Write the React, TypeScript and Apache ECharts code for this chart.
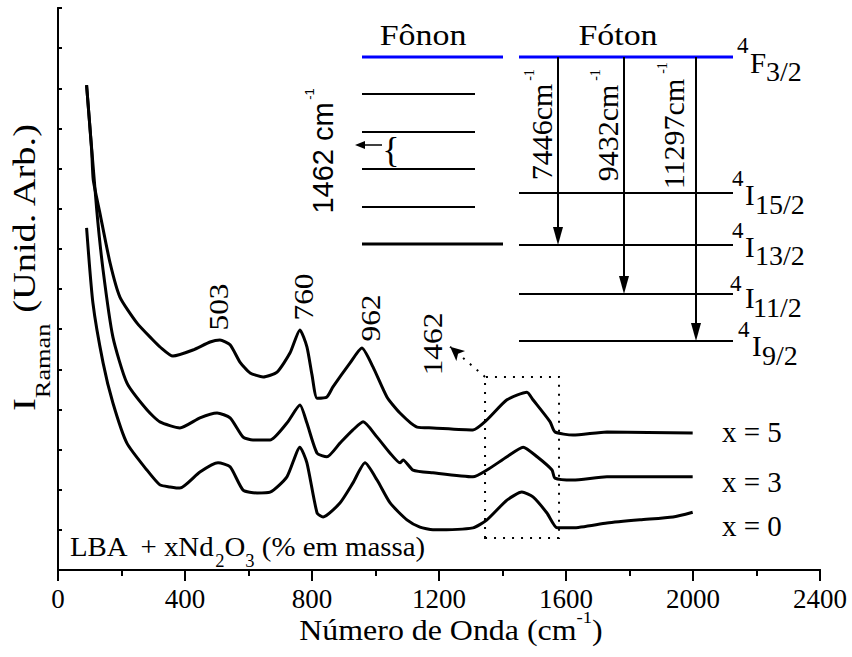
import React, { useEffect, useRef } from 'react';
import * as echarts from 'echarts';

// Raman shift (cm-1) and intensity (arb. units)
const wnX5 = [90,106,111,132,164,195,249,299,321,362,425,479,510,542,573,605,646,690,731,762,784,800,816,847,866,920,957,992,1036,1077,1131,1181,1307,1351,1414,1477,1496,1550,1565,1622,1729,1999];
const intX5 = [12.08,10.46,9.72,8.89,7.65,6.80,6.15,5.73,5.56,5.33,5.48,5.68,5.73,5.61,5.18,4.91,4.81,4.93,5.41,5.98,5.56,4.86,4.28,4.31,4.56,5.16,5.53,5.06,4.31,3.91,3.56,3.54,3.49,3.74,4.24,4.43,4.24,3.69,3.44,3.36,3.44,3.41];

const wnX3 = [90,122,142,173,217,280,321,384,447,501,542,583,614,668,721,762,784,816,847,888,929,961,1005,1046,1077,1087,1118,1181,1307,1351,1414,1465,1509,1556,1565,1622,1729,1999];
const intX3 = [12.08,8.97,7.47,5.80,4.66,3.99,3.69,3.54,3.79,3.91,3.79,3.31,3.24,3.24,3.66,4.11,3.66,2.91,2.82,3.16,3.49,3.69,3.31,2.91,2.67,2.74,2.49,2.42,2.32,2.49,2.82,3.06,2.82,2.49,2.29,2.24,2.32,2.32];

const wnX0 = [90,110,142,173,217,280,321,353,384,447,504,542,583,627,668,721,762,784,816,835,888,929,967,1005,1046,1099,1140,1181,1307,1351,1414,1461,1496,1540,1572,1622,1729,1833,1937,1999];
const intX0 = [8.52,6.65,5.16,4.16,3.16,2.49,2.12,2.07,2.04,2.44,2.67,2.57,1.99,1.92,1.94,2.32,3.06,2.67,1.42,1.32,1.67,2.17,2.67,2.24,1.67,1.25,1.07,1.00,1.05,1.25,1.74,1.94,1.82,1.42,1.05,1.05,1.17,1.25,1.32,1.44];

const xTicks = [0, 400, 800, 1200, 1600, 2000, 2400];
const sampleLabels = ['x = 5', 'x = 3', 'x = 0'];
const peakLabels = ['503', '760', '962', '1462'];
const boxRange = [[1345, 0.8], [1578, 4.81]];
const boxArrowTip = [1235, 5.56];

const zip = (a: number[], b: number[]) => a.map((v, i) => [v, b[i]]);

const SERIF = 'Liberation Serif';
const SANS = 'Liberation Sans';

function txt(text: string, x: number, y: number, size: number, family: string, align = 'left', rot = 0, extra: any = {}) {
  return {
    type: 'text', x, y, rotation: rot, silent: true, ...extra,
    style: {
      text, fontSize: size, fontFamily: family, fill: '#000',
      align, verticalAlign: 'middle', textAlign: align, textVerticalAlign: 'middle',
    },
  };
}
function seg(x1: number, y1: number, x2: number, y2: number, color = '#000', w = 2) {
  return { type: 'line', silent: true, shape: { x1, y1, x2, y2 }, style: { stroke: color, lineWidth: w } };
}
function downArrow(x: number, y1: number, y2: number) {
  return [
    seg(x, y1, x, y2 - 12),
    { type: 'polygon', silent: true, shape: { points: [[x - 5, y2 - 18], [x + 5, y2 - 18], [x, y2]] }, style: { fill: '#000' } },
  ];
}

function buildGraphics() {
  const g: any[] = [];
  const BLUE = '#0000ff';
  // Phonon ladder
  g.push(txt('Fônon', 423, 35, 29, SERIF, 'center', 0, { scaleX: 1.17 }));
  g.push(seg(362, 57, 503, 57, BLUE, 3));
  [94, 132, 169, 207].forEach((y) => g.push(seg(362, y, 475, y, '#000', 2)));
  g.push(seg(362, 244, 503, 244, '#000', 3));
  g.push(seg(382, 145, 363, 145, '#000', 1.5));
  g.push({ type: 'polygon', silent: true, shape: { points: [[355, 145], [365, 141], [365, 149]] }, style: { fill: '#000' } });
  g.push(txt('{', 391, 150, 36, SERIF, 'center'));
  g.push(txt('1462 cm', 323, 158, 29, SANS, 'center', Math.PI / 2));
  g.push(txt('-1', 309, 94, 13, SANS, 'center', Math.PI / 2));

  // Photon levels
  g.push(txt('Fóton', 618, 35, 29, SERIF, 'center', 0, { scaleX: 1.17 }));
  g.push(seg(519, 57, 733, 57, BLUE, 3));
  [193, 245, 294, 341].forEach((y) => g.push(seg(519, y, 733, y, '#000', 2.2)));
  g.push(...downArrow(558, 57, 245));
  g.push(...downArrow(624, 57, 294));
  g.push(...downArrow(696, 57, 341));
  g.push(txt('7446cm', 541, 132, 30, SERIF, 'center', Math.PI / 2));
  g.push(txt('-1', 529, 75, 14, SERIF, 'center', Math.PI / 2));
  g.push(txt('9432cm', 607, 133, 30, SERIF, 'center', Math.PI / 2));
  g.push(txt('-1', 595, 75, 14, SERIF, 'center', Math.PI / 2));
  g.push(txt('11297cm', 673, 134, 30, SERIF, 'center', Math.PI / 2));
  g.push(txt('-1', 662, 68, 14, SERIF, 'center', Math.PI / 2));

  const levels = [
    { main: 'F', sub: '3/2', supX: 737, supY: 45, mainX: 750, mainY: 63, subX: 766, subY: 71 },
    { main: 'I', sub: '15/2', supX: 732, supY: 178, mainX: 745, mainY: 195, subX: 755, subY: 204 },
    { main: 'I', sub: '13/2', supX: 732, supY: 230, mainX: 745, mainY: 247, subX: 755, subY: 255 },
    { main: 'I', sub: '11/2', supX: 730, supY: 283, mainX: 745, mainY: 298, subX: 753, subY: 307 },
    { main: 'I', sub: '9/2', supX: 738, supY: 329, mainX: 752, mainY: 346, subX: 762, subY: 355 },
  ];
  levels.forEach((l) => {
    g.push(txt('4', l.supX, l.supY, 23, SERIF));
    g.push(txt(l.main, l.mainX, l.mainY, 29, SERIF));
    g.push(txt(l.sub, l.subX, l.subY, 28, SERIF));
  });

  // Peak labels
  const peakPos = [[219, 307], [304, 297], [371, 318], [433, 344]];
  peakLabels.forEach((p, i) => g.push(txt(p, peakPos[i][0], peakPos[i][1], 28, SERIF, 'center', Math.PI / 2, { scaleX: 1.12 })));

  // Sample labels
  const sampleY = [432, 482, 526];
  sampleLabels.forEach((s, i) => g.push(txt(s, 722, sampleY[i], 29, SERIF)));

  // Composition text
  g.push({
    type: 'text', x: 70, y: 524, silent: true, scaleX: 1.03,
    style: {
      text: '{a|LBA  + xNd}{s|2}{a|O}{s|3}{a| (% em massa)}',
      fill: '#000', align: 'left', verticalAlign: 'top', textAlign: 'left', textVerticalAlign: 'top',
      fontFamily: SERIF, fontSize: 28,
      rich: {
        a: { fontFamily: SERIF, fontSize: 28, lineHeight: 46, fill: '#000' },
        s: { fontFamily: SERIF, fontSize: 18, lineHeight: 18, verticalAlign: 'bottom', fill: '#000' },
      },
    },
  });

  // X axis title
  g.push({
    type: 'text', x: 451, y: 630, silent: true, scaleX: 1.1,
    style: {
      text: '{a|Número de Onda (cm}{s|-1}{a|)}',
      fill: '#000', align: 'center', verticalAlign: 'middle', textAlign: 'center', textVerticalAlign: 'middle',
      fontFamily: SERIF, fontSize: 29,
      rich: {
        a: { fontFamily: SERIF, fontSize: 29, lineHeight: 42, fill: '#000' },
        s: { fontFamily: SERIF, fontSize: 17, lineHeight: 17, verticalAlign: 'top', fill: '#000' },
      },
    },
  });

  // Y axis title
  g.push({
    type: 'text', x: 25, y: 267, silent: true, rotation: Math.PI / 2, scaleX: 1.2,
    style: {
      text: '{a|I}{s|Raman}{a| (Unid. Arb.)}',
      fill: '#000', align: 'center', verticalAlign: 'middle', textAlign: 'center', textVerticalAlign: 'middle',
      fontFamily: SERIF, fontSize: 32,
      rich: {
        a: { fontFamily: SERIF, fontSize: 32, lineHeight: 56, fill: '#000' },
        s: { fontFamily: SERIF, fontSize: 22, lineHeight: 22, verticalAlign: 'bottom', fill: '#000' },
      },
    },
  });
  return g;
}

const axisLine = { show: true, lineStyle: { color: '#000', width: 2 } };

export default function App() {
  const ref = useRef<HTMLDivElement>(null);
  useEffect(() => {
    const chart = echarts.init(ref.current!, null, { renderer: 'svg' });
    const lineSeries = (name: string, data: number[][], extra: any = {}) => ({
      name, type: 'line', data, showSymbol: false, symbol: 'none', smooth: 0.2,
      lineStyle: { color: '#000', width: 3 }, itemStyle: { color: '#000' }, silent: true, z: 3, ...extra,
    });
    chart.setOption({
      animation: false,
      backgroundColor: '#fff',
      grid: { left: 58, right: 32, top: 8, bottom: 87, containLabel: false },
      xAxis: [
        {
          type: 'value', position: 'bottom', min: xTicks[0], max: xTicks[xTicks.length - 1], interval: 400,
          axisLine,
          axisTick: { show: true, inside: false, length: 11, lineStyle: { color: '#000', width: 2 } },
          minorTick: { show: true, splitNumber: 2, length: 6, lineStyle: { color: '#000', width: 2 } },
          axisLabel: { color: '#000', fontFamily: SERIF, fontSize: 27, margin: 15, formatter: (v: number) => String(v) },
          splitLine: { show: false }, minorSplitLine: { show: false },
        },
        {
          type: 'value', position: 'top', min: 0, max: 2400, interval: 200,
          axisLine,
          axisTick: { show: true, inside: true, length: 4, lineStyle: { color: '#000', width: 2 } },
          axisLabel: { show: false }, splitLine: { show: false },
        },
      ],
      yAxis: [
        {
          type: 'value', position: 'left', min: 0, max: 14, interval: 1,
          axisLine,
          axisTick: { show: true, inside: true, length: 4, lineStyle: { color: '#000', width: 2 } },
          axisLabel: { show: false }, splitLine: { show: false },
        },
        {
          type: 'value', position: 'right', min: 0, max: 14, interval: 1,
          axisLine,
          axisTick: { show: true, inside: false, length: 3, lineStyle: { color: '#000', width: 2 } },
          axisLabel: { show: false }, splitLine: { show: false },
        },
      ],
      series: [
        lineSeries('x = 5', zip(wnX5, intX5)),
        lineSeries('x = 3', zip(wnX3, intX3)),
        lineSeries('x = 0', zip(wnX0, intX0), {
          markArea: {
            silent: true,
            itemStyle: { color: 'rgba(0,0,0,0)', borderColor: '#000', borderWidth: 2, borderType: [2, 7] },
            data: [[{ coord: boxRange[0] }, { coord: boxRange[1] }]],
          },
          markLine: {
            silent: true, symbol: ['none', 'arrow'], symbolSize: [10, 14], label: { show: false },
            lineStyle: { color: '#000', width: 2, type: [2, 7] },
            data: [[{ coord: [boxRange[0][0], boxRange[1][1]] }, { coord: boxArrowTip }]],
          },
        }),
      ],
      graphic: buildGraphics(),
    });
    return () => chart.dispose();
  }, []);
  return (
    <div
      ref={ref}
      style={{ position: 'fixed', left: 0, top: 0, width: 852, height: 657, background: '#fff' }}
    />
  );
}
